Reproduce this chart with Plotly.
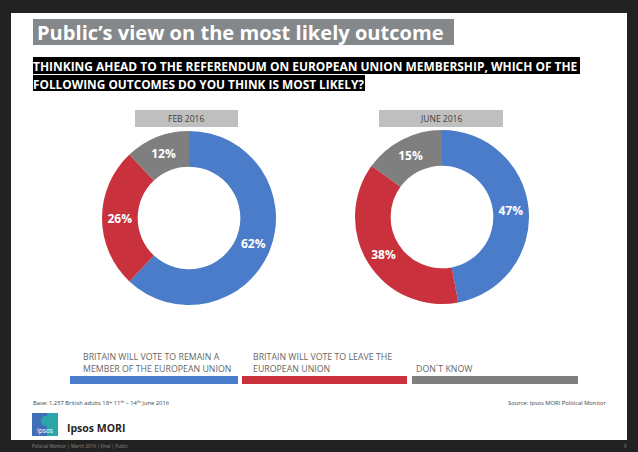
import plotly.graph_objs as go

W = 638
H = 452
BLUE = '#4a7cc9'
RED = '#c9323c'
GREY = '#7f7f7f'
FONT = 'Open Sans'

labels = ['Britain will vote to remain a member of the European Union',
          'Britain will vote to leave the European Union',
          "Don't know"]
feb_2016 = [62, 26, 12]
june_2016 = [47, 38, 15]


def px(x):
    return x / W


def py(y):
    return 1 - y / H


def box(x0, y0, x1, y1, color, kind='rect'):
    return dict(type=kind, xref='paper', yref='paper', x0=px(x0), x1=px(x1),
                y0=py(y1), y1=py(y0), fillcolor=color, line=dict(width=0), layer='below')


def text(x, y, s, size, color='#666666', anchor='left', bold=False):
    if bold:
        s = '<b>' + s + '</b>'
    return dict(xref='paper', yref='paper', x=px(x), y=py(y), text=s, showarrow=False,
                xanchor=anchor, yanchor='middle', align=anchor,
                font=dict(family=FONT, size=size, color=color))


def donut(values, cx, cy, r=87):
    return go.Pie(labels=labels, values=values, hole=0.59, sort=False, direction='clockwise',
                  rotation=0, showlegend=False, textinfo='text',
                  text=['%d%%' % v for v in values], textposition='inside',
                  insidetextorientation='horizontal',
                  textfont=dict(family=FONT, size=12, color='white', weight='bold'),
                  marker=dict(colors=[BLUE, RED, GREY], line=dict(width=0)),
                  domain=dict(x=[px(cx - r), px(cx + r)], y=[py(cy + r), py(cy - r)]))


shapes = [
    box(11, 13, 627, 440, 'white'),
    box(33, 19, 454, 45, '#85888a'),
    box(33, 57, 580, 74, 'black'),
    box(33, 75, 365, 91, 'black'),
    box(135, 110, 238, 127, '#bfbfbf'),
    box(379, 110, 503, 127, '#bfbfbf'),
    box(70, 376, 238, 384, BLUE),
    box(242, 376, 407, 384, RED),
    box(412, 376, 578, 384, GREY),
    # logo
    box(32, 413, 58, 436, '#3f6fb8'),
    box(47, 413, 58, 436, '#2aa6a8'),
    box(41, 416, 50, 426, '#2aa6a8', 'circle'),
]

annotations = [
    text(35, 32, 'Public\u2019s view on the most likely outcome', 20.1, 'white', bold=True),
    text(31, 66, 'THINKING AHEAD TO THE REFERENDUM ON EUROPEAN UNION MEMBERSHIP, WHICH OF THE', 11.95, 'white', bold=True),
    text(31, 84, 'FOLLOWING OUTCOMES DO YOU THINK IS MOST LIKELY?', 11.85, 'white', bold=True),
    text(186, 118, 'FEB 2016', 8.5, '#404040', 'center'),
    text(441, 118, 'JUNE 2016', 8.5, '#404040', 'center'),
    text(81, 357, 'BRITAIN WILL VOTE TO REMAIN A', 8.8),
    text(81, 369, 'MEMBER OF THE EUROPEAN UNION', 8.8),
    text(251, 357, 'BRITAIN WILL VOTE TO LEAVE THE', 8.8),
    text(251, 369, 'EUROPEAN UNION', 8.8),
    text(414, 369, 'DON\u00b4T KNOW', 8.8),
    text(31, 403, 'Base: 1,257 British adults 18+ 11<sup>th</sup> \u2013 14<sup>th</sup> June 2016', 5.8, '#404040'),
    text(608, 403, 'Source: Ipsos MORI Political Monitor', 5.8, '#404040', 'right'),
    text(45, 430, 'Ipsos', 6.5, 'white', 'center'),
    text(65, 428, 'Ipsos MORI', 10.5, '#262626', bold=True),
    text(30, 446, 'Political Monitor | March 2016 | Final | Public', 4.5, '#8c8c8c'),
    text(629, 446, '9', 4.5, '#8c8c8c', 'right'),
]

data = [donut(feb_2016, 189, 218), donut(june_2016, 442, 217)]
layout = go.Layout(width=W, height=H, margin=dict(l=0, r=0, t=0, b=0),
                   paper_bgcolor='#222222', plot_bgcolor='#222222',
                   shapes=shapes, annotations=annotations,
                   font=dict(family=FONT))
fig = go.Figure(data=data, layout=layout)
# the page's default body margin would push the figure 8px off
fig.write_html("out.html", config=dict(displayModeBar=False),
               post_script="document.body.style.margin='0';document.body.style.background='#222222';")
